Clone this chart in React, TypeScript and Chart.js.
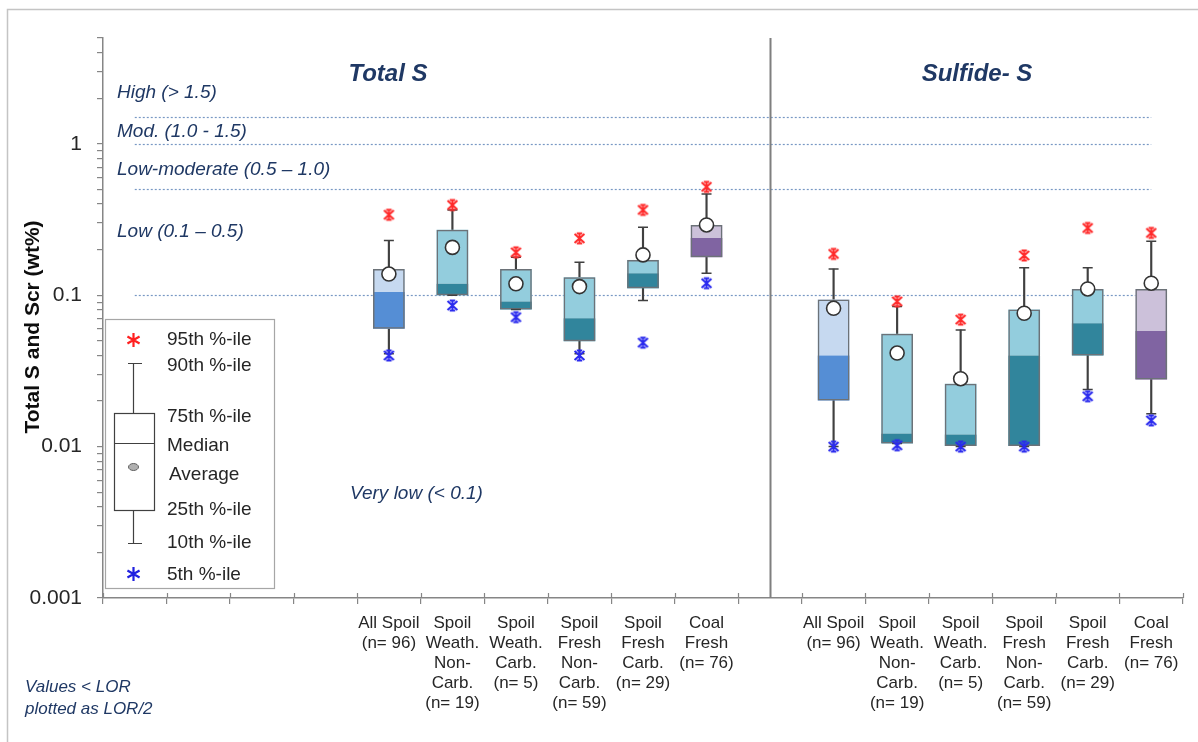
import React, { useEffect, useRef } from "react";
import { Chart, registerables } from "chart.js";

Chart.register(...registerables);

const FONT = "'Liberation Sans', Arial, sans-serif";
const NAVY = "#1f3864";
const TEXT = "#262626";

// ---- categories ----
const groupLabels: string[][] = [
  ["All Spoil", "(n= 96)"],
  ["Spoil", "Weath.", "Non-", "Carb.", "(n= 19)"],
  ["Spoil", "Weath.", "Carb.", "(n= 5)"],
  ["Spoil", "Fresh", "Non-", "Carb.", "(n= 59)"],
  ["Spoil", "Fresh", "Carb.", "(n= 29)"],
  ["Coal", "Fresh", "(n= 76)"],
];
const leadingBlanks = 4;
const panelTitles = ["Total S", "Sulfide- S"];

// ---- Total S (wt%) ----
const totalP5 = [0.04, 0.0855, 0.0716, 0.04, 0.0486, 0.12];
const totalP10 = [0.041, 0.1, 0.0805, 0.041, 0.0923, 0.1396];
const totalQ1 = [0.06, 0.1, 0.0805, 0.0497, 0.111, 0.178];
const totalMed = [0.105, 0.119, 0.0909, 0.0705, 0.1396, 0.239];
const totalQ3 = [0.149, 0.271, 0.149, 0.1315, 0.171, 0.291];
const totalP90 = [0.23, 0.366, 0.178, 0.165, 0.281, 0.466];
const totalP95 = [0.34, 0.394, 0.192, 0.2375, 0.366, 0.52];
const totalMean = [0.138, 0.207, 0.119, 0.114, 0.1846, 0.291];

// ---- Sulfide S (wt%) ----
const sulfP5 = [0.01, 0.0102, 0.01, 0.01, 0.0215, 0.0149];
const sulfP10 = [0.01, 0.0105, 0.01, 0.01, 0.0238, 0.0165];
const sulfQ1 = [0.0202, 0.0105, 0.0101, 0.0101, 0.04, 0.0278];
const sulfMed = [0.04, 0.0122, 0.012, 0.04, 0.0654, 0.058];
const sulfQ3 = [0.0937, 0.0556, 0.026, 0.0805, 0.11, 0.11];
const sulfP90 = [0.149, 0.0842, 0.059, 0.1516, 0.1516, 0.227];
const sulfP95 = [0.1874, 0.091, 0.069, 0.183, 0.278, 0.258];
const sulfMean = [0.082, 0.0415, 0.0281, 0.076, 0.11, 0.12];

// ---- colours per group ----
const upperColors = ["#c6d9f0", "#93cddd", "#93cddd", "#93cddd", "#93cddd", "#ccc1da"];
const lowerColors = ["#558ed5", "#31859c", "#31859c", "#31859c", "#31859c", "#8064a2"];

// ---- reference lines and tick labels ----
const thresholds = [1.5, 1.0, 0.5, 0.1];
const thresholdLabels = [
  "High (> 1.5)",
  "Mod. (1.0 - 1.5)",
  "Low-moderate (0.5 – 1.0)",
  "Low (0.1 – 0.5)",
  "Very low (< 0.1)",
];
const yMajorTicks = [0.001, 0.01, 0.1, 1];
const yMinorMultipliers = [2, 3, 4, 5, 6, 7, 8, 9];
const yMin = 0.001;
const yMax = 5;
const legendItems = ["95th %-ile", "90th %-ile", "75th %-ile", "Median", "Average", "25th %-ile", "10th %-ile", "5th %-ile"];
const noteLines = ["Values < LOR", "plotted as LOR/2"];
const yTitle = "Total S and Scr (wt%)";

// ---- build full category arrays ----
const blanks = <T,>(n: number, v: T): T[] => Array.from({ length: n }, () => v);
const labels: (string | string[])[] = [
  ...blanks<string | string[]>(leadingBlanks, ""),
  ...groupLabels,
  "",
  ...groupLabels,
];
const dividerIndex = leadingBlanks + groupLabels.length;
const lastIndex = labels.length - 1;
function full<T>(left: T[], right: T[]): (T | null)[] {
  return [...blanks<T | null>(leadingBlanks, null), ...left, null, ...right];
}
const pair = (a: number[], b: number[]) => a.map((v, i) => [v, b[i]] as [number, number]);

function makeAsterisk(color: string, r: number): HTMLCanvasElement {
  const c = document.createElement("canvas");
  const s = Math.ceil(r * 2 + 4);
  c.width = s;
  c.height = s;
  const g = c.getContext("2d")!;
  const m = s / 2;
  g.strokeStyle = color;
  g.lineWidth = 2;
  g.lineCap = "butt";
  g.beginPath();
  g.moveTo(m, m - r);
  g.lineTo(m, m + r);
  const dx = r * 0.9;
  const dy = r * 0.8;
  g.moveTo(m - dx, m - dy);
  g.lineTo(m + dx, m + dy);
  g.moveTo(m - dx, m + dy);
  g.lineTo(m + dx, m - dy);
  g.moveTo(m - r * 0.5, m - r + 0.5);
  g.lineTo(m + r * 0.5, m - r + 0.5);
  g.moveTo(m - r * 0.5, m + r - 0.5);
  g.lineTo(m + r * 0.5, m + r - 0.5);
  g.stroke();
  return c;
}

function drawStar6(ctx: CanvasRenderingContext2D, x: number, y: number, r: number, color: string) {
  ctx.save();
  ctx.strokeStyle = color;
  ctx.lineWidth = 2.2;
  ctx.beginPath();
  for (let k = 0; k < 3; k++) {
    const a = Math.PI / 2 + (k * Math.PI) / 3;
    ctx.moveTo(x - Math.cos(a) * r, y - Math.sin(a) * r);
    ctx.lineTo(x + Math.cos(a) * r, y + Math.sin(a) * r);
  }
  ctx.stroke();
  ctx.restore();
}

const annotate = {
  id: "annotate",
  beforeDatasetsDraw(chart: any) {
    const { ctx, chartArea, scales } = chart;
    const x = scales.x;
    const y = scales.y;
    ctx.save();
    // threshold dotted lines
    ctx.strokeStyle = "#7898c4";
    ctx.lineWidth = 1.2;
    ctx.setLineDash([2, 2]);
    const x0 = x.getPixelForValue(0);
    const x1 = x.getPixelForValue(lastIndex);
    for (const t of thresholds) {
      const py = Math.round(y.getPixelForValue(t)) + 0.5;
      ctx.beginPath();
      ctx.moveTo(x0, py);
      ctx.lineTo(x1, py);
      ctx.stroke();
    }
    ctx.setLineDash([]);
    // divider
    const dx = Math.round(x.getPixelForValue(dividerIndex)) + 0.5;
    ctx.strokeStyle = "#7f7f7f";
    ctx.lineWidth = 2;
    ctx.beginPath();
    ctx.moveTo(dx, chartArea.top);
    ctx.lineTo(dx, chartArea.bottom);
    ctx.stroke();
    // threshold labels
    ctx.fillStyle = NAVY;
    ctx.font = `italic 19px ${FONT}`;
    ctx.textBaseline = "middle";
    ctx.textAlign = "left";
    const lx = [117, 117, 117, 117, 350];
    const ly = [93, 132, 170, 232, 494];
    thresholdLabels.forEach((t, i) => ctx.fillText(t, lx[i], ly[i]));
    // panel titles
    ctx.font = `italic bold 24px ${FONT}`;
    ctx.textAlign = "center";
    ctx.fillText(panelTitles[0], 388, 74);
    ctx.fillText(panelTitles[1], 977, 74);
    ctx.restore();
  },
  afterDraw(chart: any) {
    const { ctx, chartArea, scales } = chart;
    const x = scales.x;
    ctx.save();
    // x tick marks also poke above the axis
    ctx.strokeStyle = "#868686";
    ctx.lineWidth = 1.2;
    ctx.beginPath();
    for (let i = 0; i <= labels.length; i++) {
      const px = Math.round(x.getPixelForValue(i - 0.5)) + 0.5;
      ctx.moveTo(px, chartArea.bottom - 5);
      ctx.lineTo(px, chartArea.bottom);
    }
    ctx.stroke();
    // outer frame
    ctx.strokeStyle = "#c4c4c4";
    ctx.lineWidth = 1.5;
    ctx.strokeRect(7.5, 9.5, 1400, 1000);
    // y title
    ctx.save();
    ctx.translate(33, 327);
    ctx.rotate(-Math.PI / 2);
    ctx.fillStyle = "#0d0d0d";
    ctx.font = `bold 21px ${FONT}`;
    ctx.textAlign = "center";
    ctx.textBaseline = "middle";
    ctx.fillText(yTitle, 0, 0);
    ctx.restore();
    // legend box
    ctx.fillStyle = "#ffffff";
    ctx.fillRect(105, 319, 170, 270);
    ctx.strokeStyle = "#a6a6a6";
    ctx.lineWidth = 1.2;
    ctx.strokeRect(105.5, 319.5, 169, 269);
    const cx = 133.5;
    drawStar6(ctx, cx, 340, 7, "#ff2020");
    drawStar6(ctx, cx, 574, 7, "#2020e0");
    ctx.strokeStyle = "#404040";
    ctx.lineWidth = 1.2;
    ctx.beginPath();
    ctx.moveTo(128, 363.5);
    ctx.lineTo(142, 363.5);
    ctx.moveTo(cx, 363.5);
    ctx.lineTo(cx, 413);
    ctx.moveTo(cx, 510);
    ctx.lineTo(cx, 543.5);
    ctx.moveTo(128, 543.5);
    ctx.lineTo(142, 543.5);
    ctx.stroke();
    ctx.strokeRect(114.5, 413.5, 40, 97);
    ctx.beginPath();
    ctx.moveTo(114.5, 443.5);
    ctx.lineTo(154.5, 443.5);
    ctx.stroke();
    ctx.beginPath();
    ctx.ellipse(cx, 467, 5, 3.5, 0, 0, Math.PI * 2);
    ctx.fillStyle = "#b0b0b0";
    ctx.fill();
    ctx.strokeStyle = "#606060";
    ctx.lineWidth = 1;
    ctx.stroke();
    ctx.fillStyle = TEXT;
    ctx.font = `19px ${FONT}`;
    ctx.textAlign = "left";
    ctx.textBaseline = "middle";
    const ty = [340, 366, 417, 446, 475, 510, 543, 575];
    legendItems.forEach((t, i) => ctx.fillText(t, i === 4 ? 169 : 167, ty[i]));
    // note
    ctx.fillStyle = NAVY;
    ctx.font = `italic 17px ${FONT}`;
    ctx.fillText(noteLines[0], 25, 687);
    ctx.fillText(noteLines[1], 25, 709);
    ctx.restore();
  },
};

export default function App() {
  const ref = useRef<HTMLCanvasElement | null>(null);
  useEffect(() => {
    if (!ref.current) return;
    const redStar = makeAsterisk("#ff2a2a", 5.5);
    const blueStar = makeAsterisk("#2a2aee", 5.5);
    const upperBg = full(upperColors, upperColors);
    const lowerBg = full(lowerColors, lowerColors);
    const common = { grouped: false, categoryPercentage: 1, barPercentage: 0.5 };
    const chart = new Chart(ref.current, {
      type: "bar",
      data: {
        labels,
        datasets: [
          {
            type: "bar",
            data: full(pair(totalP10, totalQ1), pair(sulfP10, sulfQ1)),
            backgroundColor: "#404040",
            barThickness: 1.5,
            grouped: false,
            order: 10,
          },
          {
            type: "bar",
            data: full(pair(totalQ3, totalP90), pair(sulfQ3, sulfP90)),
            backgroundColor: "#404040",
            barThickness: 1.5,
            grouped: false,
            order: 10,
          },
          {
            type: "bar",
            data: full(pair(totalQ1, totalMed), pair(sulfQ1, sulfMed)),
            backgroundColor: lowerBg,
            borderWidth: 0,
            ...common,
            order: 8,
          },
          {
            type: "bar",
            data: full(pair(totalMed, totalQ3), pair(sulfMed, sulfQ3)),
            backgroundColor: upperBg,
            borderWidth: 0,
            ...common,
            order: 8,
          },
          {
            type: "bar",
            data: full(pair(totalQ1, totalQ3), pair(sulfQ1, sulfQ3)),
            backgroundColor: "rgba(0,0,0,0)",
            borderColor: "#6c7278",
            borderWidth: 1.5,
            borderSkipped: false,
            ...common,
            order: 7,
          },
          {
            type: "line",
            data: full(totalP90, sulfP90),
            showLine: false,
            pointStyle: "line",
            pointRadius: 5,
            pointBorderColor: "#404040",
            pointBorderWidth: 1.5,
            order: 5,
          },
          {
            type: "line",
            data: full(totalP10, sulfP10),
            showLine: false,
            pointStyle: "line",
            pointRadius: 5,
            pointBorderColor: "#404040",
            pointBorderWidth: 1.5,
            order: 5,
          },
          {
            type: "line",
            data: full(totalMean, sulfMean),
            showLine: false,
            pointStyle: "circle",
            pointRadius: 7,
            pointBackgroundColor: "#ffffff",
            pointBorderColor: "#333333",
            pointBorderWidth: 1.6,
            order: 2,
          },
          {
            type: "line",
            data: full(totalP95, sulfP95),
            showLine: false,
            pointStyle: redStar,
            pointRadius: 6,
            order: 1,
          },
          {
            type: "line",
            data: full(totalP5, sulfP5),
            showLine: false,
            pointStyle: blueStar,
            pointRadius: 6,
            order: 1,
          },
        ] as any,
      },
      options: {
        animation: false,
        responsive: false,
        maintainAspectRatio: false,
        events: [],
        layout: { padding: { left: 0, right: 15, top: 38, bottom: 0 } },
        plugins: { legend: { display: false }, tooltip: { enabled: false } },
        scales: {
          x: {
            type: "category",
            offset: true,
            grid: { offset: true, drawOnChartArea: false, tickLength: 6, color: "#868686", lineWidth: 1.2 },
            border: { display: true, color: "#868686", width: 1.5 },
            ticks: {
              autoSkip: false,
              maxRotation: 0,
              minRotation: 0,
              padding: 9,
              color: TEXT,
              font: { family: FONT, size: 17, lineHeight: 1.18 },
            },
            afterFit: (s: any) => {
              s.height = 144;
            },
          },
          y: {
            type: "logarithmic",
            min: yMin,
            max: yMax,
            grid: { drawOnChartArea: false, tickLength: 6, color: "#868686", lineWidth: 1.2 },
            border: { display: true, color: "#868686", width: 1.5 },
            afterBuildTicks: (s: any) => {
              const t: { value: number }[] = [];
              for (const m of yMajorTicks) {
                t.push({ value: m });
                for (const k of yMinorMultipliers) {
                  const v = m * k;
                  if (v <= yMax + 1e-9 && v < m * 10 - 1e-12) t.push({ value: v });
                }
              }
              s.ticks = t;
            },
            ticks: {
              autoSkip: false,
              padding: 15,
              color: TEXT,
              font: { family: FONT, size: 21 },
              callback: (v: any) => {
                const n = Number(v);
                const l = Math.log10(n);
                if (Math.abs(l - Math.round(l)) < 1e-9) {
                  const e = Math.round(l);
                  return e >= 0 ? String(10 ** e) : (10 ** e).toFixed(-e);
                }
                return "";
              },
            },
            afterFit: (s: any) => {
              s.width = 103;
            },
          },
        },
      } as any,
      plugins: [annotate],
    });
    return () => chart.destroy();
  }, []);
  return (
    <div style={{ position: "fixed", left: 0, top: 0, width: 1198, height: 742, background: "#fff" }}>
      <canvas ref={ref} width={1198} height={742} style={{ width: 1198, height: 742, display: "block" }} />
    </div>
  );
}
